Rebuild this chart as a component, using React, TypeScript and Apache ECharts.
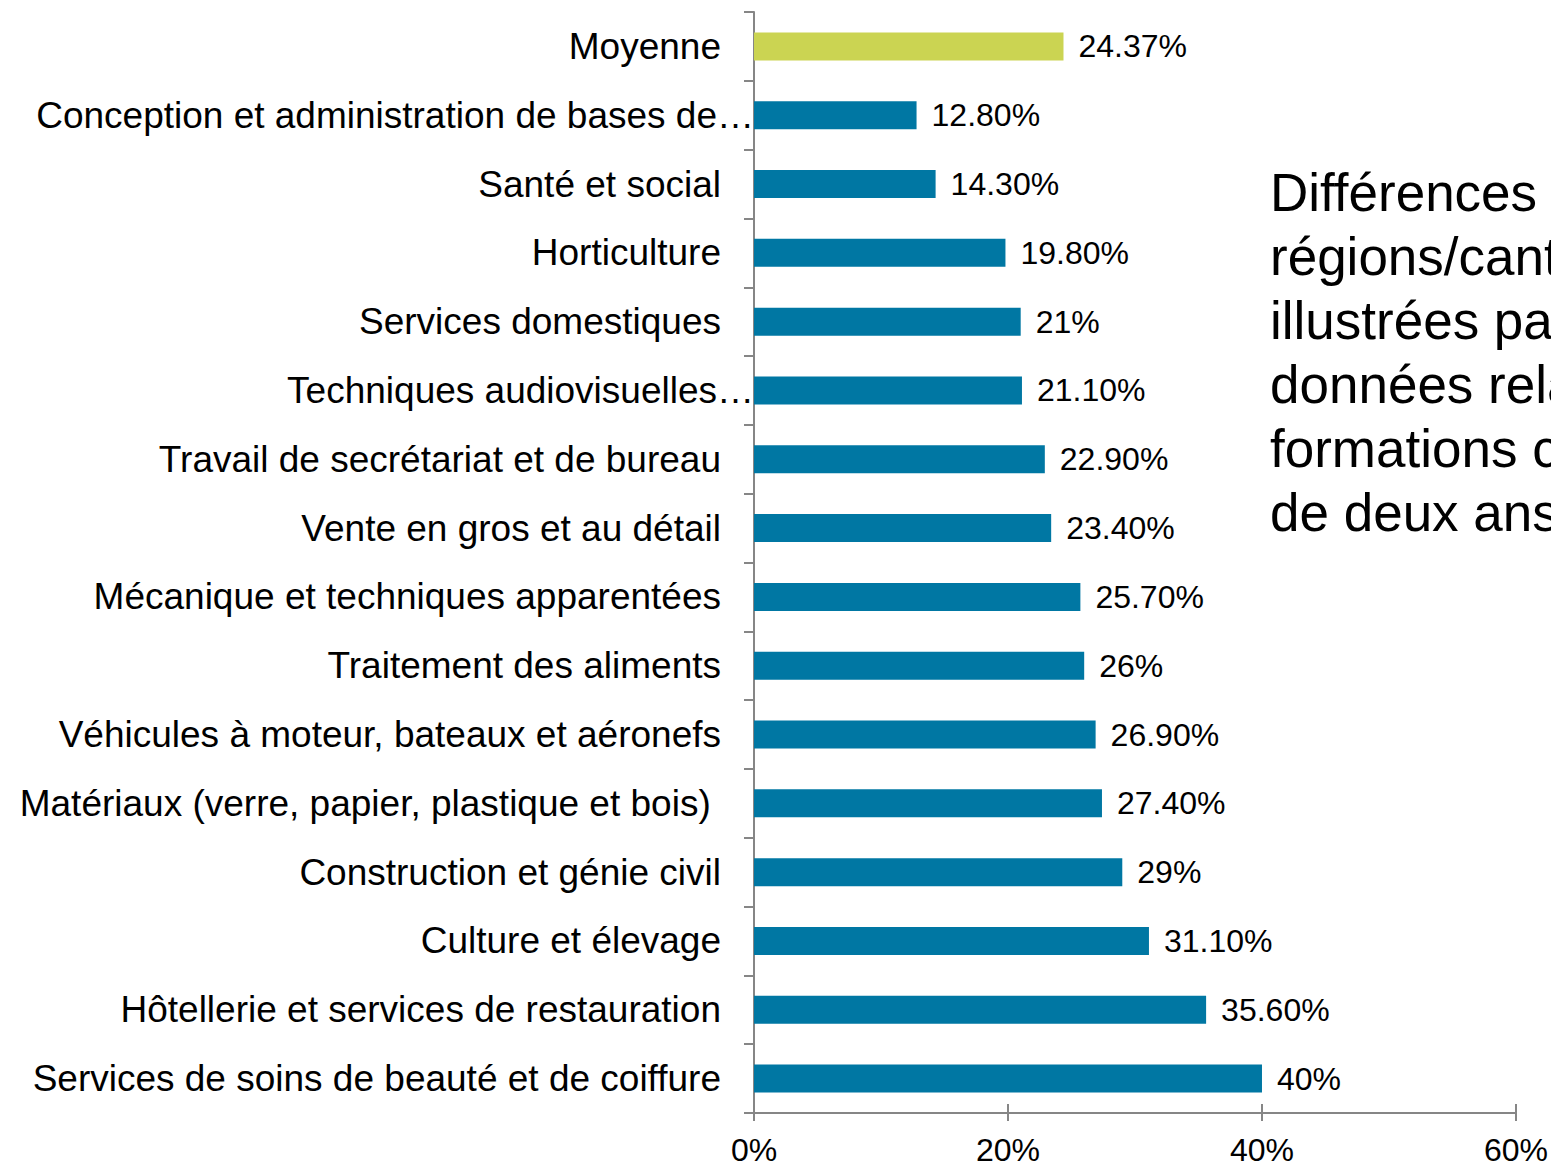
import React, { useEffect, useRef } from "react";
import * as echarts from "echarts";

const categories = [
  "Moyenne",
  "Conception et administration de bases de…",
  "Santé et social",
  "Horticulture",
  "Services domestiques",
  "Techniques audiovisuelles…",
  "Travail de secrétariat et de bureau",
  "Vente en gros et au détail",
  "Mécanique et techniques apparentées",
  "Traitement des aliments",
  "Véhicules à moteur, bateaux et aéronefs",
  "Matériaux (verre, papier, plastique et bois) ",
  "Construction et génie civil",
  "Culture et élevage",
  "Hôtellerie et services de restauration",
  "Services de soins de beauté et de coiffure",
];

const values = [24.37, 12.8, 14.3, 19.8, 21, 21.1, 22.9, 23.4, 25.7, 26, 26.9, 27.4, 29, 31.1, 35.6, 40];

const valueLabels = [
  "24.37%", "12.80%", "14.30%", "19.80%", "21%", "21.10%", "22.90%", "23.40%",
  "25.70%", "26%", "26.90%", "27.40%", "29%", "31.10%", "35.60%", "40%",
];

const xTicks = [0, 20, 40, 60];

const sideText =
  "Différences entre\nrégions/cantons\nillustrées par les\ndonnées relatives aux\nformations certifiantes\nde deux ans";

const FONT = "'Liberation Sans', Arial, Helvetica, sans-serif";
const BLUE = "#0077a3";
const GREEN = "#cbd452";
const AXIS = "#868686";

export default function App() {
  const ref = useRef<HTMLDivElement>(null);

  useEffect(() => {
    if (!ref.current) return;
    const chart = echarts.init(ref.current, null, { renderer: "svg" });
    const option: any = {
      animation: false,
      backgroundColor: "#ffffff",
      grid: { left: 754, right: 35, top: 12, bottom: 52, containLabel: false },
      xAxis: [
        {
          type: "value",
          min: xTicks[0],
          max: xTicks[xTicks.length - 1],
          interval: 20,
          position: "bottom",
          axisLine: { show: true, lineStyle: { color: AXIS, width: 2 } },
          axisTick: { show: true, length: 8, lineStyle: { color: AXIS, width: 2 } },
          splitLine: { show: false },
          axisLabel: {
            formatter: (v: number) => v + "%",
            fontFamily: FONT,
            fontSize: 32,
            color: "#000",
            margin: 21,
          },
        },
        {
          type: "value",
          min: xTicks[0],
          max: xTicks[xTicks.length - 1],
          interval: 20,
          position: "bottom",
          axisLine: { show: false },
          axisTick: { show: true, inside: true, length: 9, lineStyle: { color: AXIS, width: 2 } },
          splitLine: { show: false },
          axisLabel: { show: false },
        },
      ],
      yAxis: {
        type: "category",
        inverse: true,
        data: categories,
        axisLine: { show: true, lineStyle: { color: AXIS, width: 2 } },
        axisTick: { show: true, length: 10, lineStyle: { color: AXIS, width: 2 } },
        axisLabel: {
          fontFamily: FONT,
          fontSize: 37,
          color: "#000",
          margin: 0,
          formatter: (v: string) => {
            if (v.endsWith("…")) return "{m|" + v.slice(0, -1) + "}{e|…}";
            return "{n|" + v + "}";
          },
          rich: {
            n: { fontFamily: FONT, fontSize: 37, color: "#000", padding: [0, 33, 0, 0] },
            m: { fontFamily: FONT, fontSize: 37, color: "#000", padding: [0, 0, 0, 0] },
            e: { fontFamily: FONT, fontSize: 37, color: "#000", padding: [0, 0, 0, 0] },
          },
        },
      },
      series: [
        {
          type: "bar",
          xAxisIndex: 0,
          data: values.map((v, i) => ({
            value: v,
            itemStyle: { color: i === 0 ? GREEN : BLUE },
          })),
          barWidth: 28,
          label: {
            show: true,
            position: "right",
            distance: 15,
            fontFamily: FONT,
            fontSize: 32,
            color: "#000",
            formatter: (p: any) => valueLabels[p.dataIndex],
          },
        },
      ],
      graphic: [
        {
          type: "text",
          left: 1270,
          top: 160,
          style: {
            text: sideText,
            fontFamily: FONT,
            fontSize: 53,
            lineHeight: 64,
            fill: "#000",
          },
        },
      ],
    };
    chart.setOption(option);
    return () => chart.dispose();
  }, []);

  return (
    <div
      ref={ref}
      style={{ position: "absolute", left: 0, top: 0, width: 1551, height: 1166, overflow: "hidden" }}
    />
  );
}
